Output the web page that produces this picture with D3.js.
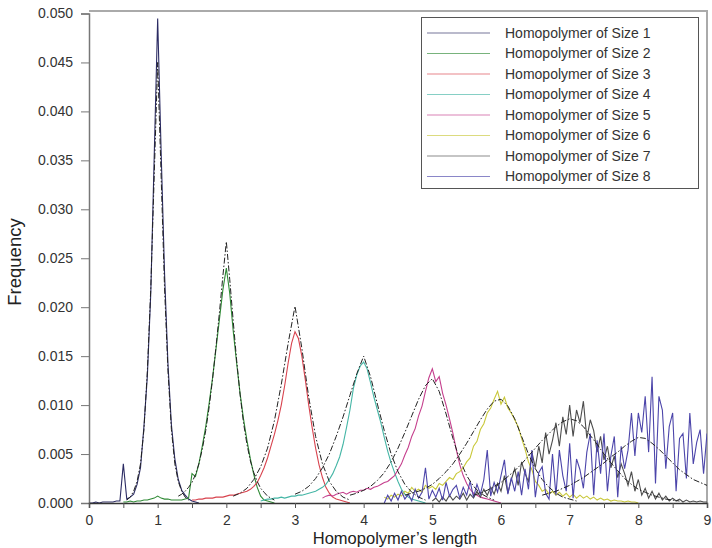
<!DOCTYPE html>
<meta charset="utf-8">
<style>
  body { margin: 0; background: #fff; }
  svg { font-family: "Liberation Sans", Arial, sans-serif; }
  .tick text { fill: #333; font-size: 14px; }
</style>
<script src="https://d3js.org/d3.v7.min.js"></script>
<svg width="712" height="548"></svg>
<script>
// x values run from each start in fixed steps
const solidStep = 0.05;

const size1Start = 0.0;
const size1 = [0, 0, 0.0001, 0, 0.0001, 0.0001, 0.0001, 0.0001, 0.0002, 0.0002, 0.0040, 0.0004, 0.0006, 0.0009, 0.0019, 0.0036,
  0.0078, 0.0130, 0.0215, 0.0355, 0.0495, 0.0360, 0.0235, 0.0142, 0.0080, 0.0045, 0.0024, 0.0013, 0.0008, 0.0004, 0.0002, 0.0001, 0];

const size2Start = 0.5;
const size2 = [0.0001, 0.0001, 0.0002, 0.0001, 0.0002, 0.0002, 0.0003, 0.0003, 0.0004, 0.0005, 0.0007, 0.0005, 0.0004, 0.0004,
  0.0003, 0.0003, 0.0003, 0.0003, 0.0004, 0.0005, 0.0030, 0.0027, 0.0040, 0.0058, 0.0078, 0.0102, 0.0128, 0.0158, 0.0188, 0.0218,
  0.0240, 0.0214, 0.0176, 0.0143, 0.0112, 0.0086, 0.0064, 0.0045, 0.0029, 0.0016, 0.0007, 0.0003, 0.0002, 0.0001, 0];

const size3Start = 1.5;
const size3 = [0.0003, 0.0003, 0.0004, 0.0004, 0.0005, 0.0005, 0.0005, 0.0006, 0.0006, 0.0006, 0.0007, 0.0008, 0.0008, 0.0009,
  0.0010, 0.0011, 0.0012, 0.0014, 0.0017, 0.0021, 0.0028, 0.0036, 0.0046, 0.0058, 0.0070, 0.0084, 0.0100, 0.0120, 0.0143, 0.0163,
  0.0175, 0.0168, 0.0150, 0.0126, 0.0100, 0.0077, 0.0056, 0.0039, 0.0026, 0.0016, 0.0010, 0.0006, 0.0004, 0.0003, 0.0002, 0.0001, 0];

const size4Start = 2.5;
const size4 = [0.0002, 0.0003, 0.0004, 0.0004, 0.0005, 0.0005, 0.0006, 0.0005, 0.0006, 0.0007, 0.0007, 0.0008, 0.0008, 0.0009,
  0.0010, 0.0011, 0.0012, 0.0014, 0.0016, 0.0019, 0.0024, 0.0030, 0.0038, 0.0047, 0.0060, 0.0077, 0.0095, 0.0117, 0.0131, 0.0140,
  0.0144, 0.0137, 0.0123, 0.0108, 0.0095, 0.0082, 0.0067, 0.0053, 0.0041, 0.0031, 0.0022, 0.0014, 0.0009, 0.0006, 0.0004, 0.0003,
  0.0002, 0.0001, 0];

const size5Start = 3.4;
const size5 = [0.0005, 0.0007, 0.0008, 0.0007, 0.0009, 0.0010, 0.0011, 0.0009, 0.0011, 0.0012, 0.0011, 0.0013, 0.0013, 0.0015,
  0.0014, 0.0016, 0.0017, 0.0019, 0.0021, 0.0022, 0.0025, 0.0028, 0.0034, 0.0040, 0.0049, 0.0057, 0.0068, 0.0076, 0.0089, 0.0099,
  0.0114, 0.0128, 0.0137, 0.0124, 0.0129, 0.0112, 0.0100, 0.0086, 0.0071, 0.0054, 0.0039, 0.0028, 0.0020, 0.0014, 0.0010, 0.0008,
  0.0006, 0.0005, 0.0004, 0.0003, 0.0002, 0.0001, 0];

const size6Start = 4.3;
const size6 = [0.0006, 0.0004, 0.0008, 0.0006, 0.0009, 0.0007, 0.0012, 0.0010, 0.0016, 0.0012, 0.0014, 0.0011, 0.0018, 0.0015,
  0.0017, 0.0014, 0.0020, 0.0018, 0.0022, 0.0026, 0.0024, 0.0030, 0.0032, 0.0036, 0.0042, 0.0046, 0.0058, 0.0063, 0.0075, 0.0081,
  0.0092, 0.0097, 0.0106, 0.0114, 0.0101, 0.0108, 0.0097, 0.0092, 0.0085, 0.0078, 0.0066, 0.0055, 0.0042, 0.0034, 0.0022, 0.0018,
  0.0012, 0.0014, 0.0009, 0.0012, 0.0008, 0.0011, 0.0007, 0.0010, 0.0006, 0.0009, 0.0005, 0.0008, 0.0005, 0.0007, 0.0004, 0.0006,
  0.0003, 0.0005, 0.0003, 0.0004, 0.0002, 0.0003, 0.0002, 0.0002, 0.0001, 0.0002, 0.0001, 0.0001, 0];

const size7Start = 5.0;
const size7 = [0.0002, 0.0005, 0.0001, 0.0006, 0.0002, 0.0008, 0.0003, 0.0007, 0.0004, 0.0010, 0.0003, 0.0009, 0.0005, 0.0012,
  0.0006, 0.0014, 0.0008, 0.0016, 0.0009, 0.0020,
  0.0012, 0.0028, 0.0010, 0.0024, 0.0035, 0.0018, 0.0042, 0.0030, 0.0022, 0.0052,
  0.0036, 0.0058, 0.0041, 0.0072, 0.0050, 0.0064, 0.0082, 0.0058, 0.0088, 0.0070,
  0.0100, 0.0068, 0.0095, 0.0082, 0.0104, 0.0066, 0.0085, 0.0074, 0.0052, 0.0068,
  0.0044, 0.0058, 0.0036, 0.0048, 0.0026, 0.0040, 0.0030, 0.0018, 0.0032, 0.0012,
  0.0024, 0.0008, 0.0015, 0.0005, 0.0012, 0.0004, 0.0010, 0.0003, 0.0007, 0.0002, 0.0005, 0.0002, 0.0004, 0.0001, 0.0003, 0.0001,
  0.0002, 0.0001, 0.0002, 0.0001, 0.0001];

const size8Start = 4.3;
const size8 = [0.0000, 0.0008, 0.0002, 0.0010, 0.0003, 0.0012, 0.0004, 0.0009, 0.0002, 0.0014, 0.0005, 0.0011, 0.0036, 0.0004,
  0.0013, 0.0006, 0.0015, 0.0003, 0.0021, 0.0007, 0.0014, 0.0018, 0.0005, 0.0016, 0.0008, 0.0022, 0.0006, 0.0019, 0.0009, 0.0024,
  0.0054, 0.0007, 0.0021, 0.0011, 0.0028, 0.0044, 0.0009, 0.0026, 0.0012, 0.0032, 0.0008, 0.0035, 0.0014, 0.0054,
  0.0006, 0.0031, 0.0037, 0.0010, 0.0004, 0.0050, 0.0008, 0.0054, 0.0028, 0.0012,
  0.0061, 0.0005, 0.0045, 0.0034, 0.0015, 0.0052, 0.0071, 0.0008, 0.0064, 0.0030,
  0.0071, 0.0012, 0.0048, 0.0068, 0.0006, 0.0058, 0.0035, 0.0054, 0.0092, 0.0048,
  0.0092, 0.0072, 0.0109, 0.0052, 0.0129, 0.0020, 0.0109, 0.0095, 0.0035, 0.0078,
  0.0092, 0.0012, 0.0066, 0.0071, 0.0025, 0.0092, 0.0040, 0.0062, 0.0075, 0.0030,
  0.0071];

// dash-dot fitted curves
const fit1Start = 0.55, fit1Step = 0.05;
const fit1 = [0.0003, 0.0006, 0.0012, 0.0022, 0.0040, 0.0075, 0.0135, 0.0220, 0.0335, 0.0450, 0.0335, 0.0220, 0.0135, 0.0075,
  0.0040, 0.0022, 0.0012, 0.0006, 0.0003];
const fit2Start = 1.3, fit2Step = 0.05;
const fit2 = [0.0007, 0.0009, 0.0012, 0.0016, 0.0021, 0.0029, 0.0040, 0.0055, 0.0074, 0.0098, 0.0127, 0.0160, 0.0195, 0.0232,
  0.0267, 0.0228, 0.0186, 0.0146, 0.0111, 0.0082, 0.0060, 0.0043, 0.0031, 0.0022, 0.0015, 0.0011, 0.0007, 0.0005, 0.0003];
const fit3Start = 2.1, fit3Step = 0.1;
const fit3 = [0.0007, 0.0010, 0.0015, 0.0024, 0.0037, 0.0056, 0.0084, 0.0121, 0.0163, 0.0201, 0.0158, 0.0108, 0.0068, 0.0040,
  0.0022, 0.0012, 0.0006, 0.0003];
const fit4Start = 3.0, fit4Step = 0.1;
const fit4 = [0.0009, 0.0012, 0.0017, 0.0025, 0.0036, 0.0050, 0.0068, 0.0088, 0.0110, 0.0132, 0.0150, 0.0129, 0.0101, 0.0074,
  0.0050, 0.0032, 0.0019, 0.0011, 0.0006, 0.0003];
const fit5Start = 3.8, fit5Step = 0.1;
const fit5 = [0.0008, 0.0010, 0.0013, 0.0017, 0.0023, 0.0031, 0.0042, 0.0056, 0.0072, 0.0089, 0.0106, 0.0120, 0.0127, 0.0114,
  0.0091, 0.0066, 0.0044, 0.0028, 0.0017, 0.0010, 0.0006, 0.0003];
const fit6Start = 4.6, fit6Step = 0.1;
const fit6 = [0.0008, 0.0010, 0.0012, 0.0015, 0.0019, 0.0025, 0.0032, 0.0040, 0.0050, 0.0061, 0.0073, 0.0085, 0.0096, 0.0104,
  0.0106, 0.0099, 0.0086, 0.0068, 0.0050, 0.0035, 0.0024, 0.0016, 0.0010, 0.0006, 0.0004, 0.0002];
const fit7Start = 5.6, fit7Step = 0.1;
const fit7 = [0.0008, 0.0010, 0.0013, 0.0017, 0.0021, 0.0027, 0.0033, 0.0040, 0.0048, 0.0056, 0.0064, 0.0071, 0.0078, 0.0083,
  0.0086, 0.0084, 0.0078, 0.0069, 0.0060, 0.0050, 0.0041, 0.0033, 0.0025, 0.0019, 0.0014, 0.0011, 0.0008, 0.0006, 0.0004, 0.0003,
  0.0002];
const fit8Start = 6.6, fit8Step = 0.1;
const fit8 = [0.0008, 0.0010, 0.0012, 0.0015, 0.0018, 0.0022, 0.0026, 0.0031, 0.0036, 0.0041, 0.0047, 0.0052, 0.0058, 0.0063,
  0.0067, 0.0066, 0.0061, 0.0055, 0.0048, 0.0041, 0.0034, 0.0029, 0.0024, 0.0021, 0.0018];

const labels = ['Homopolymer of Size 1', 'Homopolymer of Size 2', 'Homopolymer of Size 3', 'Homopolymer of Size 4',
  'Homopolymer of Size 5', 'Homopolymer of Size 6', 'Homopolymer of Size 7', 'Homopolymer of Size 8'];
const colors = ['#2b2b63', '#2f8a35', '#d8434e', '#45b6a6', '#c53f8d', '#c9c83a', '#4d4d4d', '#4c45aa'];

const yTicks = [0, 0.005, 0.010, 0.015, 0.020, 0.025, 0.030, 0.035, 0.040, 0.045, 0.050];
const xTicks = [0, 0.5, 1, 1.5, 2, 2.5, 3, 3.5, 4, 4.5, 5, 5.5, 6, 6.5, 7, 7.5, 8, 8.5, 9];

const solids = [
  [size1Start, size1], [size2Start, size2], [size3Start, size3], [size4Start, size4],
  [size5Start, size5], [size6Start, size6], [size7Start, size7], [size8Start, size8]
].map(([s, v]) => v.map((d, i) => [s + i * solidStep, d]));

const fits = [
  [fit1Start, fit1Step, fit1], [fit2Start, fit2Step, fit2], [fit3Start, fit3Step, fit3], [fit4Start, fit4Step, fit4],
  [fit5Start, fit5Step, fit5], [fit6Start, fit6Step, fit6], [fit7Start, fit7Step, fit7], [fit8Start, fit8Step, fit8]
].map(([s, st, v]) => v.map((d, i) => [s + i * st, d]));

const svg = d3.select('svg');
const x = d3.scaleLinear().domain([0, 9]).range([89, 707]);
const y = d3.scaleLinear().domain([0, 0.05]).range([503, 13.5]);

svg.append('defs').append('clipPath').attr('id', 'plot')
  .append('rect').attr('x', 89).attr('y', 11).attr('width', 618).attr('height', 493);

// frame
svg.append('path')
  .attr('d', `M89,11H707V503`)
  .attr('fill', 'none').attr('stroke', '#aaa').attr('stroke-width', 2);

const line = d3.line().x(d => x(d[0])).y(d => y(d[1]));
const g = svg.append('g').attr('clip-path', 'url(#plot)');

g.selectAll('.solid').data(solids).enter().append('path')
  .attr('class', 'solid')
  .attr('d', line)
  .attr('fill', 'none')
  .attr('stroke', (d, i) => colors[i])
  .attr('stroke-width', 1.1);

g.selectAll('.fit').data(fits).enter().append('path')
  .attr('class', 'fit')
  .attr('d', line)
  .attr('fill', 'none')
  .attr('stroke', '#222')
  .attr('stroke-width', 1)
  .attr('stroke-dasharray', '6,2,1.5,2');

// axes
const yAxis = svg.append('g').attr('transform', 'translate(89,0)')
  .call(d3.axisLeft(y).tickValues(yTicks).tickFormat(d3.format('.3f')).tickSize(8).tickPadding(8));
yAxis.select('.domain').attr('stroke', '#777').attr('stroke-width', 1.5);
yAxis.selectAll('.tick line').attr('stroke', '#777');

const xAxis = svg.append('g').attr('transform', 'translate(0,503)')
  .call(d3.axisBottom(x).tickValues(xTicks).tickFormat(d => Number.isInteger(d) ? d : '').tickSize(5).tickPadding(7));
xAxis.select('.domain').attr('stroke', '#333').attr('stroke-width', 1.5);
xAxis.selectAll('.tick line').attr('stroke', '#555');

svg.append('text')
  .attr('x', 395).attr('y', 544)
  .attr('text-anchor', 'middle')
  .attr('font-size', 16.5).attr('fill', '#222')
  .text('Homopolymer\u2019s length');

svg.append('text')
  .attr('transform', 'translate(21,262) rotate(-90)')
  .attr('text-anchor', 'middle')
  .attr('font-size', 18.5).attr('fill', '#222')
  .text('Frequency');

// legend
const legend = svg.append('g');
legend.append('rect')
  .attr('x', 421.5).attr('y', 17.5).attr('width', 277).attr('height', 171)
  .attr('fill', '#fff').attr('stroke', '#555');
const rows = legend.selectAll('.row').data(labels).enter().append('g')
  .attr('transform', (d, i) => `translate(0,${33 + i * 20.5})`);
rows.append('line')
  .attr('x1', 427).attr('x2', 490)
  .attr('stroke', (d, i) => colors[i])
  .attr('stroke-opacity', 0.65)
  .attr('stroke-width', 1.2);
rows.append('text')
  .attr('x', 505).attr('dy', '0.35em')
  .attr('font-size', 14).attr('fill', '#333')
  .text(d => d);
</script>
